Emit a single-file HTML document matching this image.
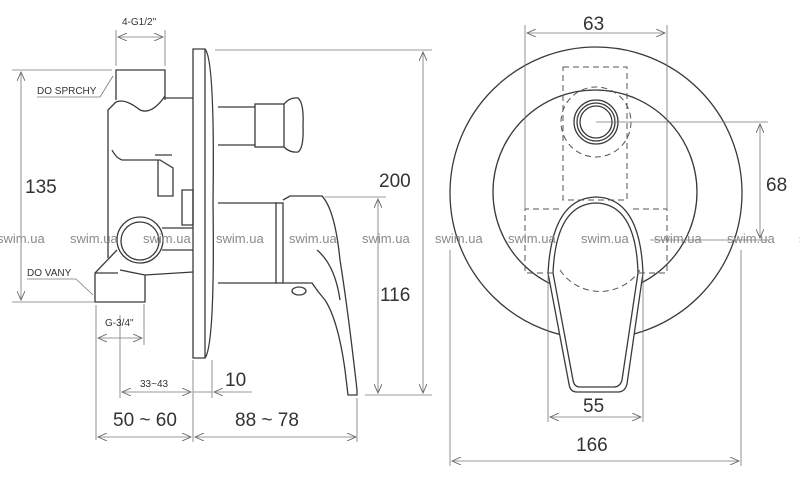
<!DOCTYPE html>
<html><head><meta charset="utf-8"><style>
html,body{margin:0;padding:0;background:#fff;}
svg{display:block;}
text{font-family:"Liberation Sans",sans-serif;fill:#333;}
</style></head><body>
<svg width="800" height="478" viewBox="0 0 800 478" xmlns="http://www.w3.org/2000/svg">
<defs>
<marker id="a" markerWidth="10" markerHeight="8" refX="9" refY="4" orient="auto-start-reverse" markerUnits="userSpaceOnUse">
<path d="M0,0 L9,4 L0,8" fill="none" stroke="#666" stroke-width="0.9"/></marker>
</defs>
<g fill="none" stroke="#3a3a3a" stroke-width="1.3">
<!-- wall plate -->
<path d="M193,49 L205,49 Q215,60 213,203 Q215,345 205,358 L193,358 Z"/>
<line x1="205" y1="49" x2="205" y2="358"/>
<!-- top pipe -->
<path d="M116,100 L116,70 L165,70 L165,100"/>
<path d="M116,102 Q125,98 140,110 Q152,115 165,96"/>
<!-- body -->
<path d="M116,102 L108,110 L108,258"/>
<path d="M165,98 L193,98"/>
<path d="M112,150 Q116,158 122,160 L160,160 L173,168 L173,196 L158,196 L158,160"/>
<path d="M155,155 L172,155"/>
<path d="M182,190 L193,190 L193,225 L182,225 Z"/>
<path d="M162,228 L193,228"/>
<path d="M162,250 L193,250"/>
<!-- round outlet -->
<circle cx="140" cy="240" r="23"/>
<circle cx="140" cy="241" r="19"/>
<!-- bottom block -->
<path d="M117,250 L95,273 L95,302 L145,302 L145,275 L120,270"/>
<path d="M95,273 L118,273"/>
<path d="M145,275 L193,272"/>
<!-- knob -->
<path d="M218,107 L255,107 M218,145 L255,145"/>
<rect x="255" y="104" width="29" height="43"/>
<path d="M284,104 Q290,97 298,98 Q304,103 303,125 Q304,148 298,152 Q290,153 284,147"/>
<!-- lever body -->
<path d="M218,203 L277,203 M218,283 L277,283"/>
<rect x="276" y="203" width="7" height="80"/>
<path d="M283,200 L290,196 L322,196 Q335,210 340,260 Q348,310 357,390 L357,395 L348,395 L345,370 Q338,320 325,300 Q318,292 312,283 L283,283"/>
<path d="M317,250 Q335,265 340,300"/>
<ellipse cx="299" cy="291" rx="7" ry="4"/>
<!-- right view -->
<circle cx="596" cy="193" r="146"/>
<circle cx="595" cy="192" r="102"/>
<circle cx="596" cy="122" r="22"/>
<circle cx="596" cy="122" r="19"/>
<circle cx="596" cy="122" r="16"/>
<path d="M548,273 Q552,198 596,197 Q640,198 643,273 L627,384 Q625,392 618,392 L577,392 Q570,392 569,384 Z" fill="#fff"/>
<path d="M553,273 Q556,204 596,203 Q636,204 638,273 L622,380 Q620,387 614,387 L580,387 Q574,387 573,380 Z"/>
</g>
<g fill="none" stroke="#555" stroke-width="1" stroke-dasharray="6,4">
<rect x="563" y="67" width="64" height="133"/>
<path d="M553,273 L525,273 L525,209 L560,209 M633,209 L667,209 L667,273 L638,273"/>
<circle cx="596" cy="122" r="35"/>
<path d="M560,270 A48,48 0 0 0 640,270"/>
</g>
<!-- dimension lines -->
<g fill="none" stroke="#777" stroke-width="0.8">
<line x1="116" y1="30" x2="116" y2="66"/><line x1="165" y1="30" x2="165" y2="66"/>
<line x1="118" y1="37" x2="163" y2="37" marker-start="url(#a)" marker-end="url(#a)"/>
<line x1="12" y1="70" x2="112" y2="70"/><line x1="12" y1="302" x2="95" y2="302"/>
<line x1="21" y1="72" x2="21" y2="300" marker-start="url(#a)" marker-end="url(#a)"/>
<path d="M37,97 L100,97 L113,76"/>
<path d="M27,279 L76,279 L93,295"/>
<line x1="96" y1="305" x2="96" y2="440"/><line x1="144" y1="304" x2="144" y2="345"/>
<line x1="98" y1="338" x2="142" y2="338" marker-start="url(#a)" marker-end="url(#a)"/>
<line x1="120" y1="315" x2="120" y2="398"/>
<line x1="193" y1="360" x2="193" y2="442"/><line x1="212" y1="360" x2="212" y2="398"/>
<line x1="122" y1="392" x2="191" y2="392" marker-start="url(#a)" marker-end="url(#a)"/>
<line x1="193" y1="392" x2="212" y2="392"/>
<line x1="252" y1="392" x2="214" y2="392" marker-end="url(#a)"/>
<line x1="98" y1="437" x2="191" y2="437" marker-start="url(#a)" marker-end="url(#a)"/>
<line x1="195" y1="437" x2="356" y2="437" marker-start="url(#a)" marker-end="url(#a)"/>
<line x1="357" y1="398" x2="357" y2="442"/>
<line x1="215" y1="50" x2="432" y2="50"/>
<line x1="423" y1="52" x2="423" y2="393" marker-start="url(#a)" marker-end="url(#a)"/>
<line x1="325" y1="197" x2="386" y2="197"/><line x1="365" y1="395" x2="432" y2="395"/>
<line x1="378" y1="199" x2="378" y2="393" marker-start="url(#a)" marker-end="url(#a)"/>
<line x1="525" y1="25" x2="525" y2="209"/><line x1="667" y1="25" x2="667" y2="209"/>
<line x1="527" y1="33" x2="665" y2="33" marker-start="url(#a)" marker-end="url(#a)"/>
<line x1="596" y1="122" x2="768" y2="122"/><line x1="650" y1="240" x2="768" y2="240"/>
<line x1="760" y1="124" x2="760" y2="238" marker-start="url(#a)" marker-end="url(#a)"/>
<line x1="548" y1="273" x2="548" y2="422"/><line x1="643" y1="273" x2="643" y2="422"/>
<line x1="550" y1="417" x2="641" y2="417" marker-start="url(#a)" marker-end="url(#a)"/>
<line x1="450" y1="250" x2="450" y2="466"/><line x1="741" y1="250" x2="741" y2="466"/>
<line x1="452" y1="461" x2="739" y2="461" marker-start="url(#a)" marker-end="url(#a)"/>
</g>
<!-- labels -->
<g font-size="10">
<text x="122" y="25">4-G1/2"</text>
<text x="37" y="94">DO SPRCHY</text>
<text x="27" y="276">DO VANY</text>
<text x="105" y="326">G-3/4"</text>
<text x="140" y="387">33~43</text>
</g>
<g font-size="19">
<text x="25" y="193">135</text>
<text x="379" y="187">200</text>
<text x="380" y="301">116</text>
<text x="225" y="386">10</text>
<text x="113" y="426">50 ~ 60</text>
<text x="235" y="426">88 ~ 78</text>
<text x="583" y="30">63</text>
<text x="766" y="191">68</text>
<text x="583" y="412">55</text>
<text x="576" y="451">166</text>
</g>
<g font-size="13">
<text x="-3" y="243" style="fill:#8a8a8a">swim.ua</text>
<text x="70" y="243" style="fill:#8a8a8a">swim.ua</text>
<text x="143" y="243" style="fill:#8a8a8a">swim.ua</text>
<text x="216" y="243" style="fill:#8a8a8a">swim.ua</text>
<text x="289" y="243" style="fill:#8a8a8a">swim.ua</text>
<text x="362" y="243" style="fill:#8a8a8a">swim.ua</text>
<text x="435" y="243" style="fill:#8a8a8a">swim.ua</text>
<text x="508" y="243" style="fill:#8a8a8a">swim.ua</text>
<text x="581" y="243" style="fill:#8a8a8a">swim.ua</text>
<text x="654" y="243" style="fill:#8a8a8a">swim.ua</text>
<text x="727" y="243" style="fill:#8a8a8a">swim.ua</text>
<text x="799" y="243" style="fill:#8a8a8a">swim.ua</text>
</g>
</svg>
</body></html>
